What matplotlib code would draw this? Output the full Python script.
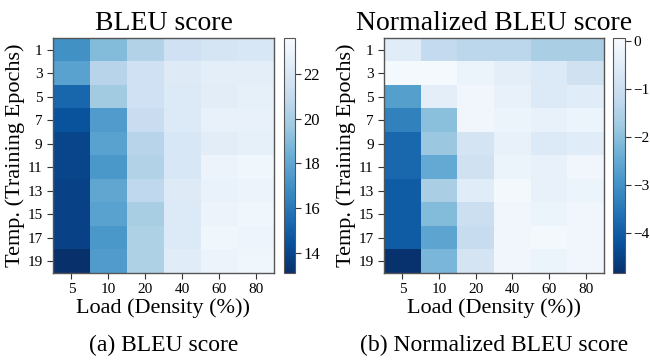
import numpy as np
import matplotlib
matplotlib.use('Agg')
import matplotlib.pyplot as plt

plt.rcParams['font.family'] = ['Liberation Serif', 'DejaVu Serif']

temps = [1, 3, 5, 7, 9, 11, 13, 15, 17, 19]  # training epochs
loads = [5, 10, 20, 40, 60, 80]  # density (%)

bleu = [
    [17.0, 19.0, 20.3, 21.5, 21.8, 22.0],
    [17.8, 20.5, 21.5, 22.3, 22.6, 22.6],
    [15.3, 19.8, 21.5, 22.2, 22.5, 22.7],
    [14.5, 17.5, 21.2, 22.2, 22.8, 22.8],
    [14.0, 17.8, 20.5, 22.0, 22.5, 22.7],
    [14.0, 17.3, 20.3, 22.0, 23.0, 23.2],
    [13.8, 18.0, 20.8, 22.3, 22.9, 23.0],
    [13.8, 17.8, 20.0, 22.2, 23.0, 23.2],
    [13.8, 17.3, 20.2, 22.2, 23.2, 23.1],
    [13.1, 17.5, 20.2, 22.4, 23.0, 23.2],
]

norm_bleu = [
    [-0.5, -1.2, -1.3, -1.3, -1.6, -1.6],
    [0.0, 0.0, -0.2, -0.4, -0.6, -0.9],
    [-2.7, -0.4, -0.1, -0.3, -0.6, -0.5],
    [-3.3, -2.0, -0.1, -0.2, -0.3, -0.2],
    [-3.8, -1.8, -0.8, -0.3, -0.6, -0.5],
    [-3.8, -2.5, -0.9, -0.2, -0.3, -0.1],
    [-4.0, -1.6, -0.5, -0.05, -0.3, -0.2],
    [-4.0, -2.1, -1.0, -0.1, -0.2, -0.1],
    [-4.0, -2.6, -1.1, -0.1, -0.05, -0.1],
    [-4.8, -2.2, -0.8, -0.1, -0.2, -0.1],
]

fig = plt.figure(figsize=(6.5, 3.64), dpi=100)

# data, title, caption, color range, colorbar ticks, label size, axes box, colorbar box
panels = [
    (bleu, 'BLEU score', '(a) BLEU score', 13.1, 23.6, [14, 16, 18, 20, 22], 12,
     [0.0815, 0.25, 0.340, 0.6456], [0.437, 0.25, 0.017, 0.6456]),
    (norm_bleu, 'Normalized BLEU score', '(b) Normalized BLEU score', -4.84, 0.06, [0, -1, -2, -3, -4], 11,
     [0.591, 0.25, 0.338, 0.6456], [0.943, 0.25, 0.019, 0.6456]),
]

for data, title, caption, vmin, vmax, cticks, csize, ax_pos, cb_pos in panels:
    ax = fig.add_axes(ax_pos)
    cax = fig.add_axes(cb_pos)
    im = ax.imshow(np.array(data), cmap='Blues_r', vmin=vmin, vmax=vmax,
                   aspect='auto', interpolation='nearest')
    ax.set_xticks(range(len(loads)))
    ax.set_xticklabels(loads)
    ax.set_yticks(range(len(temps)))
    ax.set_yticklabels(temps)
    ax.tick_params(labelsize=11, length=4, color='#333333', width=0.8)
    for s in ax.spines.values():
        s.set_color('#555555')
        s.set_linewidth(1.0)
    ax.set_xlabel('Load (Density (%))', fontsize=16, labelpad=1)
    ax.set_ylabel('Temp. (Training Epochs)', fontsize=16, labelpad=2)
    ax.set_title(title, fontsize=20, pad=6)
    ax.text(0.5, -0.31, caption, transform=ax.transAxes, ha='center', va='center', fontsize=17)

    cb = fig.colorbar(im, cax=cax)
    cb.set_ticks(cticks)
    cb.ax.tick_params(labelsize=csize, length=4, pad=2, color='#333333', width=0.8)
    cb.outline.set_edgecolor('#555555')

fig.savefig('out.png', dpi=100)
